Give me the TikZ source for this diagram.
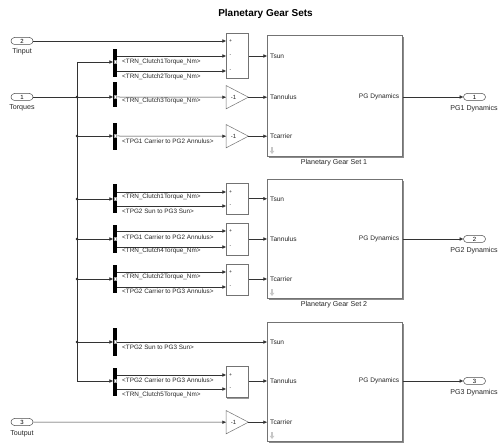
\documentclass[tikz,border=0pt]{standalone}
\usepackage{fontspec}
\setmainfont{Liberation Sans}
\usetikzlibrary{arrows.meta,shadows}
\begin{document}
\begin{tikzpicture}[x=1pt,y=-1pt,
  wire/.style={draw=black!80, line width=0.5pt},
  sig/.style={wire, -{Triangle[length=3.6pt,width=3.2pt]}},
  slab/.style={font=\fontsize{6.35}{7}\selectfont, inner sep=0, anchor=west, text=black!85},
  plab/.style={font=\fontsize{6.6}{8}\selectfont, inner sep=0, text=black!85},
  blab/.style={font=\fontsize{7.1}{8}\selectfont, inner sep=0, text=black!85},
  sgn/.style={font=\fontsize{5}{6}\selectfont, inner sep=0, text=black!85},
  port/.style={draw=black!70, fill=white, rounded corners=3.5pt, minimum width=22pt, minimum height=7pt, inner sep=0, line width=0.5pt, font=\fontsize{6}{7}\selectfont},
  bussel/.style={fill=black, draw=none, minimum width=4pt, inner sep=0, anchor=north west},
  pmark/.style={fill=white, draw=black!40, minimum width=2.4pt, minimum height=3pt, inner sep=0, line width=0.2pt},
  blk/.style={draw=black!55, fill=white, inner sep=0, anchor=north west, line width=0.5pt, minimum width=22pt,
    general shadow={shadow xshift=0.8pt, shadow yshift=-0.8pt, fill=black!40}},
  pgblk/.style={draw=black!55, fill=white, inner sep=0, anchor=north west, line width=0.6pt, minimum width=135pt,
    general shadow={shadow xshift=1.3pt, shadow yshift=-1.3pt, fill=black!45}},
  gbox/.style={inner sep=0, anchor=north west, minimum width=22pt, minimum height=23pt},
  gainsty/.style={draw=black!55, fill=white, line width=0.5pt},
  dot/.style={fill=black!85},
  iconsty/.style={fill=black!22, draw=none}
]
\useasboundingbox (0,0) rectangle (498,443);

% title
\node[font=\bfseries\fontsize{10}{12}\selectfont, inner sep=0] (title) at (265.5,14) {Planetary Gear Sets};

% inports
\node[port] (tin) at (22,41) {2};
\node[blab] (tinl) at (22,52) {Tinput};
\node[port] (tq) at (22,97) {1};
\node[blab] (tql) at (22,108) {Torques};
\node[port] (tout) at (22,422) {3};
\node[blab] (toutl) at (22,433.5) {Toutput};

% bus line
\coordinate (btop) at (77,62);
\coordinate (bbot) at (77,381);
\coordinate (j1) at (77,97);
\coordinate (j2) at (77,136);
\coordinate (j3) at (77,199);
\coordinate (j4) at (77,239);
\coordinate (j5) at (77,279);
\coordinate (j6) at (77,342);

% bus selectors
\node[bussel, minimum height=28pt] (bs1) at (113,49) {};
\node[bussel, minimum height=25pt] (bs2) at (113,82) {};
\node[bussel, minimum height=27pt] (bs3) at (113,123) {};
\node[bussel, minimum height=29pt] (bs4) at (113,184) {};
\node[bussel, minimum height=28pt] (bs5) at (113,225) {};
\node[bussel, minimum height=28pt] (bs6) at (113,265) {};
\node[bussel, minimum height=28pt] (bs7) at (113,328) {};
\node[bussel, minimum height=28pt] (bs8) at (113,368) {};
\foreach \n/\yy in {bs1/62,bs2/97,bs3/136,bs4/199,bs5/239,bs6/279,bs7/342,bs8/381}
  \node[pmark] at (115,\yy) {};

% sum blocks
\node[blk, minimum height=45pt] (sum1) at (226,33) {};
\node[blk, minimum height=31pt] (sum2) at (226,183) {};
\node[blk, minimum height=32pt] (sum3) at (226,223) {};
\node[blk, minimum height=31pt] (sum4) at (226,264) {};
\node[blk, minimum height=31pt] (sum5) at (226,366.5) {};

% gains
\node[gbox] (g1) at (226,85.5) {};
\node[gbox] (g2) at (226,124.5) {};
\node[gbox] (g3) at (226,410.5) {};
\foreach \g in {g1,g2,g3}{
  \draw[gainsty] (\g.north west) -- (\g.east) -- (\g.south west) -- cycle;
  \node[sgn, font=\fontsize{6}{7}\selectfont] at ([xshift=7.5pt]\g.west) {-1};
}

% planetary gear blocks
\node[pgblk, minimum height=121pt] (pg1) at (267,35) {};
\node[pgblk, minimum height=119pt] (pg2) at (267,179) {};
\node[pgblk, minimum height=119pt] (pg3) at (267,322) {};
\node[blab] (pg1l) at (334,163) {Planetary Gear Set 1};
\node[blab] (pg2l) at (334,305) {Planetary Gear Set 2};
\foreach \p/\a/\b/\c in {pg1/56/97/136, pg2/199/239/279, pg3/342/381/422}{
  \node[plab, anchor=west] at (270,\a) {Tsun};
  \node[plab, anchor=west] at (270,\b) {Tannulus};
  \node[plab, anchor=west] at (270,\c) {Tcarrier};
  \node[plab, anchor=east] at (399.5,\b) {PG Dynamics};
}
\foreach \yb in {154,296,439}{
  \fill[iconsty] (271.3,\yb-7) rectangle (272.7,\yb-3);
  \fill[iconsty] (269.6,\yb-3.2) -- (274.4,\yb-3.2) -- (272,\yb) -- cycle;
}

% outports
\node[port] (op1) at (474.5,97) {1};
\node[blab] (op1l) at (474,108.5) {PG1 Dynamics};
\node[port] (op2) at (474.5,239) {2};
\node[blab] (op2l) at (474,250.5) {PG2 Dynamics};
\node[port] (op3) at (474.5,381) {3};
\node[blab] (op3l) at (474,392.5) {PG3 Dynamics};

% ---- connectors ----
\draw[sig] (tin.east) -- (tin.east -| sum1.west);
\draw[wire] (tq.east) -- (j1);
\draw[wire] (btop) -- (bbot);
\foreach \j in {j1,j2,j3,j4,j5,j6} \fill[dot] (\j) circle (1.4pt);
\draw[sig] (btop) -- (btop -| bs1.west);
\draw[sig] (j1) -- (j1 -| bs2.west);
\draw[sig] (j2) -- (j2 -| bs3.west);
\draw[sig] (j3) -- (j3 -| bs4.west);
\draw[sig] (j4) -- (j4 -| bs5.west);
\draw[sig] (j5) -- (j5 -| bs6.west);
\draw[sig] (j6) -- (j6 -| bs7.west);
\draw[sig] (bbot) -- (bbot -| bs8.west);

% bus selector outputs
\draw[sig] (bs1.east |- 0,56) -- (sum1.west |- 0,56);
\draw[sig] (bs1.east |- 0,71) -- (sum1.west |- 0,71);
\draw[sig] (bs2.east |- 0,97) -- (g1.west);
\draw[sig] (bs3.east |- 0,136) -- (g2.west);
\draw[sig] (bs4.east |- 0,192) -- (sum2.west |- 0,192);
\draw[sig] (bs4.east |- 0,206) -- (sum2.west |- 0,206);
\draw[sig] (bs5.east |- 0,231) -- (sum3.west |- 0,231);
\draw[sig] (bs5.east |- 0,247) -- (sum3.west |- 0,247);
\draw[sig] (bs6.east |- 0,272) -- (sum4.west |- 0,272);
\draw[sig] (bs6.east |- 0,287) -- (sum4.west |- 0,287);
\draw[sig] (bs7.east |- 0,342) -- (pg3.west |- 0,342);
\draw[sig] (bs8.east |- 0,375) -- (sum5.west |- 0,375);
\draw[sig] (bs8.east |- 0,389) -- (sum5.west |- 0,389);
\draw[sig] (tout.east) -- (g3.west);

% signal labels
\node[slab] at (122,62) {<TRN\_Clutch1Torque\_Nm>};
\node[slab] at (122,76.5) {<TRN\_Clutch2Torque\_Nm>};
\node[slab] at (122,101) {<TRN\_Clutch3Torque\_Nm>};
\node[slab] at (122,141) {<TPG1 Carrier to PG2 Annulus>};
\node[slab] at (122,197) {<TRN\_Clutch1Torque\_Nm>};
\node[slab] at (122,211) {<TPG2 Sun to PG3 Sun>};
\node[slab] at (122,237) {<TPG1 Carrier to PG2 Annulus>};
\node[slab] at (122,251) {<TRN\_Clutch4Torque\_Nm>};
\node[slab] at (122,277) {<TRN\_Clutch2Torque\_Nm>};
\node[slab] at (122,291.5) {<TPG2 Carrier to PG3 Annulus>};
\node[slab] at (122,347) {<TPG2 Sun to PG3 Sun>};
\node[slab] at (122,380) {<TPG2 Carrier to PG3 Annulus>};
\node[slab] at (122,394.5) {<TRN\_Clutch5Torque\_Nm>};

% sum signs
\foreach \yy/\s in {41/+,56/-,71/-,192/+,206/-,231/+,247/-,272/+,287/-,375/+,389/-}
  \node[sgn] at (230.5,\yy) {\s};

% sum/gain outputs to PG ports
\draw[sig] (sum1.east |- 0,56) -- (pg1.west |- 0,56);
\draw[sig] (g1.east) -- (pg1.west |- g1.east);
\draw[sig] (g2.east) -- (pg1.west |- g2.east);
\draw[sig] (sum2.east) -- (pg2.west |- sum2.east);
\draw[sig] (sum3.east |- 0,239) -- (pg2.west |- 0,239);
\draw[sig] (sum4.east |- 0,279) -- (pg2.west |- 0,279);
\draw[sig] (sum5.east |- 0,381) -- (pg3.west |- 0,381);
\draw[sig] (g3.east) -- (pg3.west |- g3.east);

% PG outputs
\draw[sig] (pg1.east |- op1.west) -- (op1.west);
\draw[sig] (pg2.east |- op2.west) -- (op2.west);
\draw[sig] (pg3.east |- op3.west) -- (op3.west);
\end{tikzpicture}
\end{document}
